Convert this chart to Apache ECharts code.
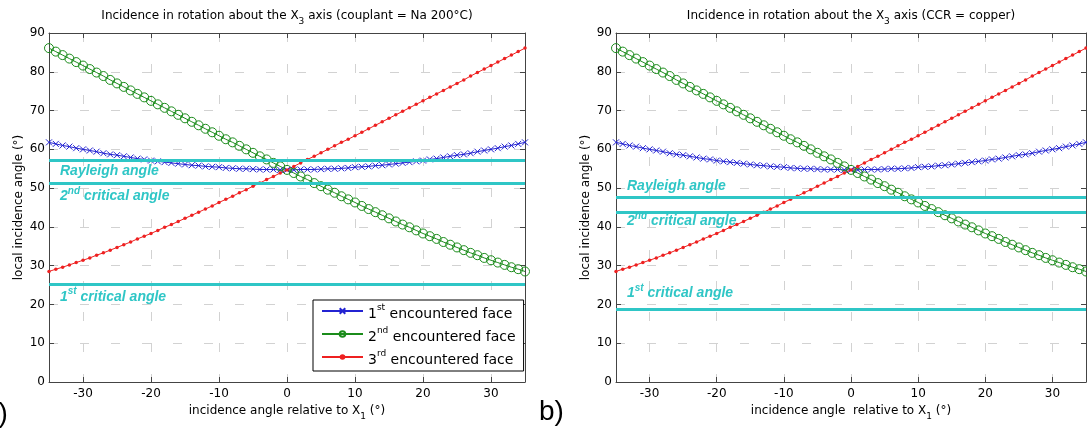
<!DOCTYPE html>
<html><head><meta charset="utf-8">
<script src="https://cdn.jsdelivr.net/npm/echarts@6/dist/echarts.min.js"></script>
<style>html,body{margin:0;padding:0;background:#fff}#c{width:1087px;height:434px}</style>
</head><body><div id="c"></div>
<script>
// ---------- data ----------
const angles = [-35,-34,-33,-32,-31,-30,-29,-28,-27,-26,-25,-24,-23,-22,-21,-20,-19,-18,-17,-16,-15,-14,-13,-12,-11,-10,-9,-8,-7,-6,-5,-4,-3,-2,-1,0,1,2,3,4,5,6,7,8,9,10,11,12,13,14,15,16,17,18,19,20,21,22,23,24,25,26,27,28,29,30,31,32,33,34,35];
const face1 = [61.8,61.4,61.0,60.7,60.3,60.0,59.7,59.4,59.0,58.7,58.5,58.2,57.9,57.6,57.4,57.1,56.9,56.7,56.5,56.3,56.1,55.9,55.8,55.6,55.5,55.4,55.2,55.1,55.0,55.0,54.9,54.8,54.8,54.8,54.7,
  54.7,
  54.7,54.8,54.8,54.8,54.9,55.0,55.0,55.1,55.2,55.4,55.5,55.6,55.8,55.9,56.1,56.3,56.5,56.7,56.9,57.1,57.4,57.6,57.9,58.2,58.5,58.7,59.0,59.4,59.7,60.0,60.3,60.7,61.0,61.4,61.8];
const face2 = [86.1,85.2,84.3,83.4,82.5,81.6,80.7,79.8,78.9,77.9,77.0,76.1,75.2,74.3,73.4,72.5,71.6,70.7,69.8,68.9,68.0,67.1,66.2,65.3,64.4,63.5,62.6,61.8,60.9,60.0,59.1,58.2,57.4,56.5,55.6,
  54.7,
  53.9,53.0,52.2,51.3,50.5,49.6,48.8,47.9,47.1,46.3,45.4,44.6,43.8,43.0,42.2,41.4,40.6,39.9,39.1,38.3,37.6,36.9,36.1,35.4,34.7,34.0,33.3,32.7,32.0,31.4,30.8,30.2,29.6,29.1,28.5];
const face3 = [28.5,29.1,29.6,30.2,30.8,31.4,32.0,32.7,33.3,34.0,34.7,35.4,36.1,36.9,37.6,38.3,39.1,39.9,40.6,41.4,42.2,43.0,43.8,44.6,45.4,46.3,47.1,47.9,48.8,49.6,50.5,51.3,52.2,53.0,53.9,
  54.7,
  55.6,56.5,57.4,58.2,59.1,60.0,60.9,61.8,62.6,63.5,64.4,65.3,66.2,67.1,68.0,68.9,69.8,70.7,71.6,72.5,73.4,74.3,75.2,76.1,77.0,77.9,78.9,79.8,80.7,81.6,82.5,83.4,84.3,85.2,86.1];
const faceNames = ['1st encountered face','2nd encountered face','3rd encountered face'];
const limitNames = ['Rayleigh angle','2nd critical angle','1st critical angle'];
const naLimits = [57.3, 51.3, 25.1];
const cuLimits = [47.6, 43.9, 18.8];
const plotTitles = ['Incidence in rotation about the X3 axis (couplant = Na 200°C)',
                    'Incidence in rotation about the X3 axis (CCR = copper)'];
const xNames = ['incidence angle relative to X1 (°)', 'incidence angle  relative to X1 (°)'];
const yName = 'local incidence angle (°)';
const panelTags = ['a)', 'b)'];

// ---------- styling helpers ----------
const FONT = 'DejaVu Sans';
const CYAN = '#2fc6c6';
const subRich = s => '{t|' + s.replace(/X(\d)/g, 'X}{sub|$1}{t|') + '}';
const supRich = s => '{t|' + s.replace(/(\d)(st|nd|rd|th)/g, '$1}{sup|$2}{t|') + '}';
const subStyles = size => ({
  t: {fontFamily: FONT, fontSize: size, color: '#000', lineHeight: size + 2, verticalAlign: 'top'},
  sub: {fontFamily: FONT, fontSize: size - 3, color: '#000', lineHeight: size - 2, padding: [7, 0, 0, 0], verticalAlign: 'top'}
});
const annRich = {
  t: {fontFamily: 'Liberation Sans', fontWeight: 'bold', fontStyle: 'italic', fontSize: 14, color: CYAN, lineHeight: 16, padding: [3, 0, 0, 0], verticalAlign: 'top'},
  sup: {fontFamily: 'Liberation Sans', fontWeight: 'bold', fontStyle: 'italic', fontSize: 10, color: CYAN, lineHeight: 13, verticalAlign: 'top'}
};

const grids = [
  {left: 49, right: 562, top: 33, bottom: 52},
  {left: 616, right: 1, top: 33, bottom: 52}
];
const AX = '#444';
function xAx(g, pos, main) {
  return {
    type: 'value', gridIndex: g, position: pos, min: -35, max: 35, splitNumber: 7,
    axisLine: {show: true, onZero: false, lineStyle: {color: AX, width: 1}},
    axisTick: {show: true, inside: true, length: 5, lineStyle: {color: AX}},
    axisLabel: {show: main, showMinLabel: false, showMaxLabel: false, color: '#000', fontFamily: FONT, fontSize: 12, margin: 6},
    splitLine: {show: main, lineStyle: {color: '#d2d2d2', type: [9, 22], width: 1}},
    name: main ? subRich(xNames[g]) : '', nameLocation: 'middle', nameGap: 22,
    nameTextStyle: {rich: subStyles(12)}
  };
}
function yAx(g, pos, main) {
  return {
    type: 'value', gridIndex: g, position: pos, min: 0, max: 90, interval: 10,
    axisLine: {show: true, onZero: false, lineStyle: {color: AX, width: 1}},
    axisTick: {show: true, inside: true, length: 5, lineStyle: {color: AX}},
    axisLabel: {show: main, color: '#000', fontFamily: FONT, fontSize: 12, margin: 4},
    splitLine: {show: main, lineStyle: {color: '#d2d2d2', type: [9, 22], width: 1}},
    name: main ? yName : '', nameLocation: 'middle', nameGap: 24,
    nameTextStyle: {fontFamily: FONT, fontSize: 12, color: '#000'}
  };
}

function limitSeries(g, values, sides, dists) {
  return {
    type: 'line', name: 'limits' + g, xAxisIndex: 2 * g, yAxisIndex: 2 * g, data: [], z: 1,
    markLine: {
      silent: true, symbol: 'none', animation: false,
      lineStyle: {color: CYAN, width: 3, type: 'solid'},
      data: values.map((v, i) => ({
        yAxis: v,
        label: {show: true, formatter: supRich(limitNames[i]), rich: annRich,
                position: sides[i] === 'below' ? 'insideStartBottom' : 'insideStartTop',
                distance: [11, dists[i]]}
      }))
    }
  };
}

function faceSeries(g) {
  const pts = arr => angles.map((a, i) => [a, arr[i]]);
  return [
    {type: 'line', name: faceNames[0], xAxisIndex: 2 * g, yAxisIndex: 2 * g, z: 3, data: pts(face1),
     symbol: 'path://M0,0L10,10M10,0L0,10', symbolSize: 6, showAllSymbol: true,
     lineStyle: {color: '#2323d2', width: 1},
     itemStyle: {color: '#2323d2', borderColor: '#2323d2', borderWidth: 1}},
    {type: 'line', name: faceNames[1], xAxisIndex: 2 * g, yAxisIndex: 2 * g, z: 3, data: pts(face2),
     symbol: 'circle', symbolSize: 9, showAllSymbol: true,
     lineStyle: {color: '#1b8c1b', width: 1},
     itemStyle: {color: 'rgba(0,0,0,0)', borderColor: '#1b8c1b', borderWidth: 1}},
    {type: 'line', name: faceNames[2], xAxisIndex: 2 * g, yAxisIndex: 2 * g, z: 3, data: pts(face3),
     symbol: 'circle', symbolSize: 3.5, showAllSymbol: true,
     lineStyle: {color: '#ee2020', width: 1},
     itemStyle: {color: '#ee2020'}}
  ];
}

const chart = echarts.init(document.getElementById('c'), null, {renderer: 'canvas'});
chart.setOption({
  animation: false,
  backgroundColor: '#fff',
  grid: grids,
  xAxis: [xAx(0, 'bottom', true), xAx(0, 'top', false), xAx(1, 'bottom', true), xAx(1, 'top', false)],
  yAxis: [yAx(0, 'left', true), yAx(0, 'right', false), yAx(1, 'left', true), yAx(1, 'right', false)],
  legend: {
    data: faceNames, orient: 'vertical', left: 313, top: 300, selectedMode: false,
    backgroundColor: '#fff', borderColor: '#000', borderWidth: 1, borderRadius: 0,
    padding: [3, 8, 4, 8], itemGap: 5, itemWidth: 41, itemHeight: 7,
    formatter: n => supRich(n),
    textStyle: {rich: {
      t: {fontFamily: FONT, fontSize: 14, color: '#000', lineHeight: 16, padding: [4, 0, 0, 0], verticalAlign: 'top'},
      sup: {fontFamily: FONT, fontSize: 9, color: '#000', lineHeight: 10, verticalAlign: 'top'}
    }}
  },
  graphic: [
    {type: 'text', x: 287, y: 10, style: {text: subRich(plotTitles[0]), rich: subStyles(12), align: 'center', verticalAlign: 'top'}},
    {type: 'text', x: 851, y: 10, style: {text: subRich(plotTitles[1]), rich: subStyles(12), align: 'center', verticalAlign: 'top'}},
    {type: 'text', x: -17, y: 414, style: {text: panelTags[0], font: '28px "Liberation Sans"', fill: '#000', align: 'left', verticalAlign: 'middle'}},
    {type: 'text', x: 539, y: 412, style: {text: panelTags[1], font: '28px "Liberation Sans"', fill: '#000', align: 'left', verticalAlign: 'middle'}}
  ],
  series: [
    limitSeries(0, naLimits, ['below', 'below', 'below'], [1, 3, 2]),
    limitSeries(1, cuLimits, ['above', 'below', 'above'], [5, -1, 10]),
    ...faceSeries(0), ...faceSeries(1)
  ]
});
</script></body></html>
